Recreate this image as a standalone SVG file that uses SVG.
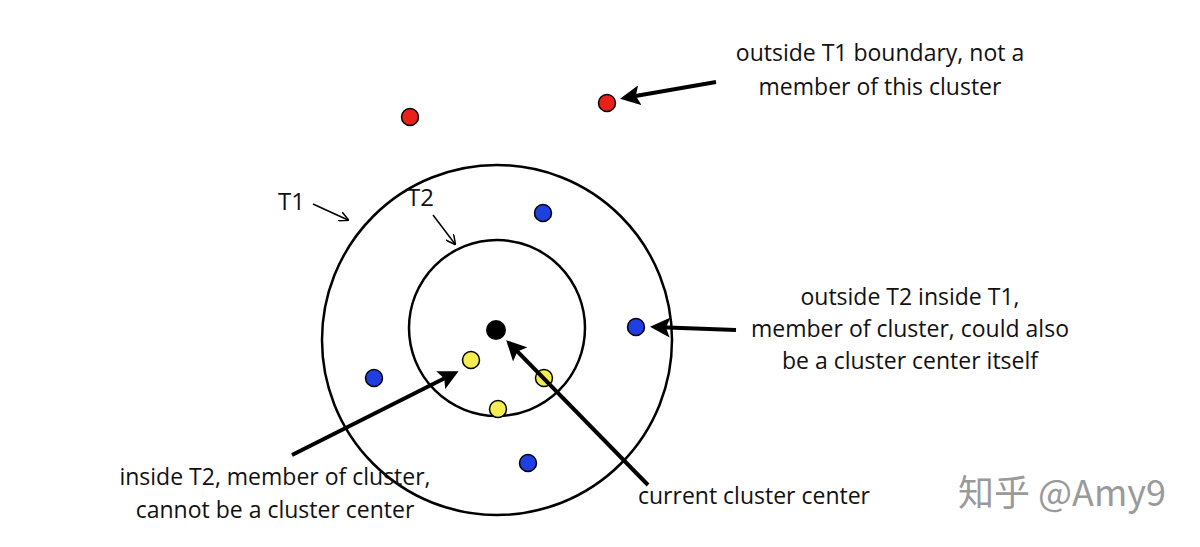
<svg xmlns="http://www.w3.org/2000/svg" width="1200" height="547" viewBox="0 0 1200 547">
<style>
text{font-family:"Open Sans","Liberation Sans",sans-serif;font-size:23px;fill:#111}
.c{fill:none;stroke:#000;stroke-width:2.5}
.d{stroke:#000;stroke-width:1.5}
.a{stroke:#000;stroke-width:4;fill:none;marker-end:url(#ah)}
.s{stroke:#000;stroke-width:1.5;fill:none;marker-end:url(#sh)}
</style>
<defs>
<marker id="ah" markerWidth="5" markerHeight="5" refX="4" refY="2.5" orient="auto"><path d="M0,0L5,2.5L0,5L1,2.5z" fill="#000"/></marker>
<marker id="sh" markerWidth="10" markerHeight="10" refX="9" refY="5" orient="auto" markerUnits="userSpaceOnUse"><path d="M0,0L10,5L0,10" fill="none" stroke="#000" stroke-width="1.5"/></marker>
</defs>
<rect width="1200" height="547" fill="#fff"/>
<g id="t1"><circle class="c" cx="497" cy="340" r="175"/></g>
<g id="t2"><circle class="c" cx="497" cy="328" r="88"/></g>
<g id="points">
<circle class="d" cx="410" cy="117" r="8.5" fill="#e8221b"/>
<circle class="d" cx="607" cy="103" r="8.5" fill="#e8221b"/>
<circle class="d" cx="543" cy="213" r="8.5" fill="#1f3fe0"/>
<circle class="d" cx="636" cy="327" r="8.5" fill="#1f3fe0"/>
<circle class="d" cx="374" cy="378" r="8.5" fill="#1f3fe0"/>
<circle class="d" cx="528" cy="463" r="8.5" fill="#1f3fe0"/>
<circle class="d" cx="471" cy="360" r="8.5" fill="#f5ec52"/>
<circle class="d" cx="544" cy="378" r="8.5" fill="#f5ec52"/>
<circle class="d" cx="498" cy="409" r="8.5" fill="#f5ec52"/>
<circle cx="496" cy="330" r="10" fill="#000"/>
</g>
<g id="connectors">
<line class="a" x1="716" y1="82" x2="624" y2="98"/>
<line class="a" x1="736" y1="330" x2="654" y2="327"/>
<line class="a" x1="292" y1="455" x2="455" y2="373"/>
<line class="a" x1="648" y1="485" x2="509" y2="343"/>
<line class="s" x1="313" y1="204" x2="348" y2="220"/>
<line class="s" x1="433" y1="215" x2="455" y2="244"/>
</g>
<g id="labels">
<text x="278" y="210" style="font-size:24px">T1</text>
<text x="407" y="206" style="font-size:24px">T2</text>
<text x="880" y="61" text-anchor="middle">outside T1 boundary, not a</text>
<text x="880" y="95" text-anchor="middle">member of this cluster</text>
<text x="910" y="305" text-anchor="middle">outside T2 inside T1,</text>
<text x="910" y="337" text-anchor="middle">member of cluster, could also</text>
<text x="910" y="369" text-anchor="middle">be a cluster center itself</text>
<text x="275" y="485" text-anchor="middle">inside T2, member of cluster,</text>
<text x="275" y="518" text-anchor="middle">cannot be a cluster center</text>
<text x="754" y="504" text-anchor="middle">current cluster center</text>
<text x="958" y="506" style="font-family:'Noto Sans CJK SC',sans-serif;font-size:36px;fill:#9a9a9a">知乎 @Amy9</text>
</g>
</svg>
